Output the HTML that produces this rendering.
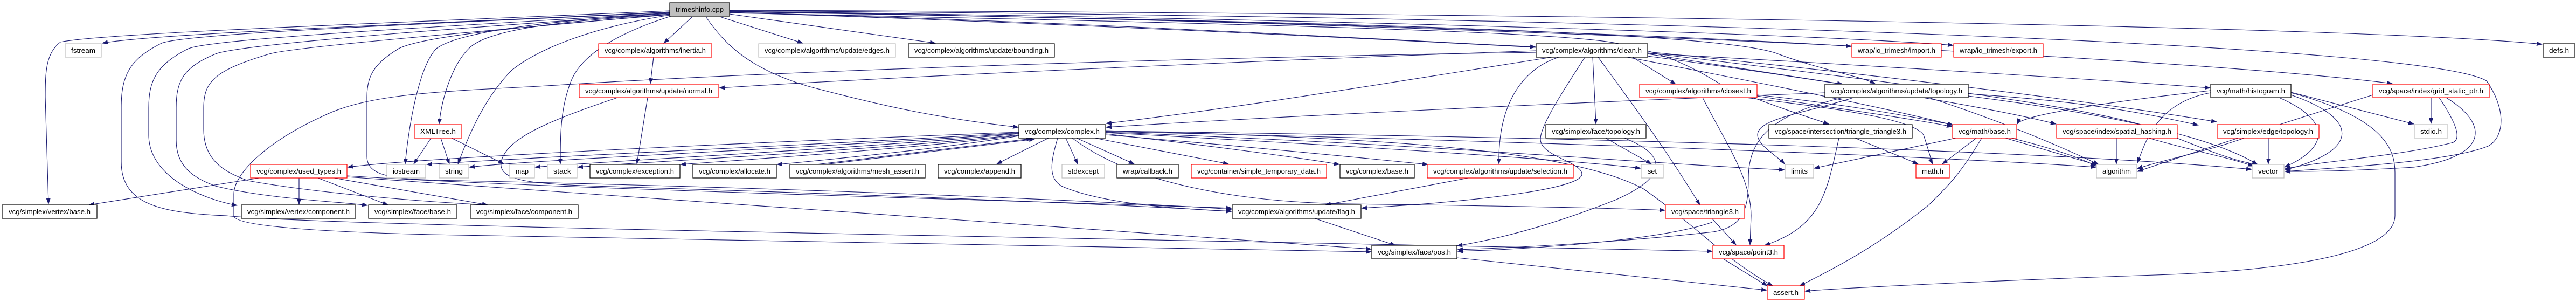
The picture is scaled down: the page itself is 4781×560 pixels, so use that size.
<!DOCTYPE html>
<html><head><meta charset="utf-8"><style>
html,body{margin:0;padding:0;background:#fff}
svg{display:block}
text{font-family:"Liberation Sans",sans-serif;font-size:13px;fill:#000}
.e{fill:none;stroke:#191970;stroke-width:1.1;marker-end:url(#a)}
.k{fill:#fff;stroke:#000;stroke-width:1.2}
.r{fill:#fff;stroke:#ff0000;stroke-width:1.2}
.g{fill:#fff;stroke:#bfbfbf;stroke-width:1.2}
</style></head><body>
<svg width="4781" height="560" viewBox="0 0 4781 560" xmlns="http://www.w3.org/2000/svg">
<defs><marker id="a" markerUnits="userSpaceOnUse" markerWidth="11" markerHeight="8" refX="10" refY="4" orient="auto"><path d="M0,0 L11,4 L0,8 z" fill="#191970"/></marker></defs>
<g>
<!-- from trimeshinfo -->
<path class="e" d="M1243,22 C900,40 300,60 190,80"/>
<path class="e" d="M1243,20 C800,40 200,60 112,78 C86,98 84,130 84,180 L90,378"/>
<path class="e" d="M1243,23 C900,40 350,60 300,80 C240,110 225,140 225,200 L225,300 C225,380 300,395 420,400 C600,420 2000,440 3178,466"/>
<path class="e" d="M1243,24 C900,45 400,70 350,90 C290,120 276,150 276,200 L276,250 C276,330 380,370 440,381"/>
<path class="e" d="M1243,25 C950,45 450,80 400,100 C340,125 327,150 327,200 L327,260 C327,310 360,330 400,345 C500,370 650,375 682,381"/>
<path class="e" d="M1243,26 C1000,50 550,85 500,100 C400,130 378,150 378,200 L378,240 C378,300 420,320 460,335 C600,360 800,375 905,380"/>
<path class="e" d="M1243,27 C1100,40 800,60 740,90 C700,115 681,135 681,180 L681,290 C681,335 750,333 900,336 C1500,350 2000,370 2286,388"/>
<path class="e" d="M1243,24 C1000,40 850,60 810,90 C780,120 760,220 752,304"/>
<path class="e" d="M1243,27 C1000,40 900,60 870,90 C840,120 820,180 815,230"/>
<path class="e" d="M1243,28 C1100,50 1000,90 950,130 C900,180 870,250 850,304"/>
<path class="e" d="M1245,30 C1150,60 1080,100 1060,150 C1040,200 1040,250 1040,304"/>
<path class="e" d="M1285,31 L1232,80"/>
<path class="e" d="M1336,31 L1490,80"/>
<path class="e" d="M1354,26 L1736,80"/>
<path class="e" d="M1310,31 C1350,90 1400,130 1500,160 C1650,200 1750,220 1890,236"/>
<path class="e" d="M1354,23 C2000,40 2500,70 2850,87"/>
<path class="e" d="M1354,21 C2500,40 3200,70 3436,86"/>
<path class="e" d="M1354,21 C2500,35 3400,65 3625,84"/>
<path class="e" d="M1354,22 C2500,40 3200,60 3300,100 C3380,130 3450,140 3480,155"/>
<path class="e" d="M1354,23 C2500,60 3800,140 4102,163"/>
<path class="e" d="M1354,21 C2600,40 4000,100 4440,155"/>
<path class="e" d="M1354,19 C3000,25 4400,50 4718,82"/>
<path class="e" d="M1354,20 C3000,30 4500,80 4615,150 C4650,200 4650,250 4620,270 C4550,300 4350,310 4241,318"/>
<path class="e" d="M1354,24 C2400,45 2900,60 3000,80 C3100,100 3150,130 3200,160 C3300,200 3350,215 3394,230"/>
<!-- normal / inertia -->
<path class="e" d="M1213,106 L1207,155"/>
<path class="e" d="M1202,181 L1182,304"/>
<path class="e" d="M1146,181 C1000,230 940,260 930,300 C925,335 980,340 1100,345 C1600,360 2100,380 2286,392"/>
<path class="e" d="M2851,94 C2400,110 1700,140 1335,163"/>
<path class="e" d="M2851,97 C2000,110 1300,140 1000,160 C800,170 680,176 600,215 C500,260 434,320 434,360 L434,400 C434,420 600,430 800,435 C1500,445 2200,460 2545,467"/>
<!-- XMLTree -->
<path class="e" d="M800,256 L768,304"/>
<path class="e" d="M818,256 L834,304"/>
<path class="e" d="M838,256 L935,304"/>
<!-- used_types -->
<path class="e" d="M481,330 L165,380"/>
<path class="e" d="M555,330 L555,379"/>
<path class="e" d="M590,330 L720,380"/>
<path class="e" d="M620,330 L905,380"/>
<path class="e" d="M644,326 C1000,350 2000,375 2286,386"/>
<path class="e" d="M644,328 C1200,370 2000,420 2545,462"/>
<!-- complex.h -->
<path class="e" d="M1891,245 C1500,260 800,290 645,310"/>
<path class="e" d="M1891,246 C1600,265 1000,290 792,305"/>
<path class="e" d="M1891,247 C1600,270 1000,295 871,310"/>
<path class="e" d="M1891,248 C1600,275 1100,300 993,310"/>
<path class="e" d="M1891,250 C1600,280 1200,300 1072,310"/>
<path class="e" d="M1891,251 C1700,275 1400,295 1263,305"/>
<path class="e" d="M1891,252 C1750,275 1550,295 1442,305"/>
<path class="e" d="M1515,305 L1915,257"/>
<path class="e" d="M1522,306 L1920,258"/>
<path class="e" d="M1946,256 L1850,304"/>
<path class="e" d="M1978,256 L2000,304"/>
<path class="e" d="M1998,256 L2105,304"/>
<path class="e" d="M2032,256 L2280,304"/>
<path class="e" d="M2052,248 C2200,265 2400,290 2486,305"/>
<path class="e" d="M2052,250 C2300,270 2550,295 2650,305"/>
<path class="e" d="M2052,246 C2500,270 2900,295 3045,312"/>
<path class="e" d="M1963,256 C1950,300 1945,330 1970,345 C2050,380 2200,388 2286,392"/>
<path class="e" d="M2052,244 C2800,260 3600,290 3890,310"/>
<path class="e" d="M2052,243 C3000,255 3800,280 4179,314"/>
<path class="e" d="M2052,245 C2700,270 3000,300 3312,315"/>
<path class="e" d="M2052,242 C2500,255 2900,270 3050,350 C3150,420 3200,480 3290,530"/>
<path class="e" d="M1990,256 C2100,340 2300,375 2500,378 C2800,382 3000,386 3090,390"/>
<path class="e" d="M2880,106 C2600,150 2300,200 2053,229"/>
<path class="e" d="M3387,172 C2800,195 2300,220 2053,236"/>
<!-- clean.h -->
<path class="e" d="M3030,106 L3110,156"/>
<path class="e" d="M2956,106 L2962,230"/>
<path class="e" d="M2893,106 C2820,130 2780,200 2782,304"/>
<path class="e" d="M2941,107 C2900,170 2859,233 2859,258 C2859,290 2936,300 2936,323 C2936,345 2800,370 2527,386"/>
<path class="e" d="M2966,106 C3050,220 3100,290 3155,380"/>
<path class="e" d="M3058,100 L3420,156"/>
<path class="e" d="M3020,106 C3250,150 3500,200 3625,232"/>
<path class="e" d="M3058,104 C3400,150 3700,200 3816,230"/>
<path class="e" d="M3058,96 C3500,140 3900,190 4114,226"/>
<path class="e" d="M3058,98 C3500,150 3900,200 4000,240 C4100,280 4150,300 4190,305"/>
<!-- closest -->
<path class="e" d="M3160,181 C3200,260 3250,330 3250,400 L3248,454"/>
<path class="e" d="M3240,181 C3400,200 3550,220 3570,250 C3580,280 3585,300 3587,304"/>
<path class="e" d="M3261,178 C3400,200 3550,220 3623,235"/>
<path class="e" d="M3261,176 C3500,200 3800,260 3890,308"/>
<!-- update/topology -->
<path class="e" d="M3420,181 C3300,210 3245,250 3245,330 C3245,380 3240,420 3180,430 C3000,450 2800,460 2705,463"/>
<path class="e" d="M3440,181 C3350,210 3262,220 3262,250 C3262,270 3300,290 3312,304"/>
<path class="e" d="M3580,181 C3700,220 3800,260 3895,305"/>
<path class="e" d="M3653,178 C3900,210 4100,250 4190,305"/>
<path class="e" d="M3653,174 C3900,190 4000,215 4080,232"/>
<!-- face topology -->
<path class="e" d="M2980,256 L3065,304"/>
<path class="e" d="M3015,256 C3100,290 3090,330 3000,370 C2900,410 2800,440 2704,456"/>
<!-- misc -->
<path class="e" d="M2725,330 L2460,380"/>
<path class="e" d="M2440,405 L2590,455"/>
<path class="e" d="M3178,406 L3222,454"/>
<path class="e" d="M3178,412 C3100,440 2900,460 2705,466"/>
<path class="e" d="M3200,481 C3230,500 3255,515 3280,530"/>
<path class="e" d="M2704,478 C3000,510 3200,530 3279,538"/>
<path class="e" d="M3630,256 L3367,312"/>
<path class="e" d="M3668,256 L3605,304"/>
<path class="e" d="M3678,256 C3640,320 3620,340 3580,380 C3480,460 3400,500 3340,530"/>
<path class="e" d="M3722,256 L3892,306"/>
<path class="e" d="M3443,256 L3560,304"/>
<path class="e" d="M3413,256 C3390,360 3380,420 3275,455"/>
<path class="e" d="M3928,256 L3928,304"/>
<path class="e" d="M3988,256 C4070,280 4130,290 4182,308"/>
<path class="e" d="M4210,256 L4210,304"/>
<path class="e" d="M4165,256 C4100,280 4000,300 3967,313"/>
<path class="e" d="M4252,171 L4480,230"/>
<path class="e" d="M4230,181 C4320,220 4330,270 4240,310"/>
<path class="e" d="M4252,176 C4380,220 4380,280 4241,315"/>
<path class="e" d="M4252,172 C4430,220 4445,280 4445,320 L4445,400 C4445,460 4300,500 4000,510 C3700,520 3400,535 3350,540"/>
<path class="e" d="M4103,172 C4000,190 3980,270 3967,302"/>
<path class="e" d="M4103,168 C3900,190 3750,215 3744,230"/>
<path class="e" d="M4512,181 L4512,229"/>
<path class="e" d="M4527,181 C4560,230 4570,260 4550,265 C4450,290 4300,300 4241,313"/>
<path class="e" d="M4540,181 C4620,230 4620,290 4480,310 C4350,318 4280,318 4241,318"/>
<path class="e" d="M4404,176 C4200,240 4050,290 3967,318"/>
</g>
<g>
<rect x="1243" y="5" width="111" height="25" fill="#bfbfbf" stroke="#000" stroke-width="1.2"/><text x="1298.5" y="22" text-anchor="middle" textLength="89" lengthAdjust="spacingAndGlyphs">trimeshinfo.cpp</text>
<rect class="g" x="121" y="81" width="67" height="25"/><text x="154.5" y="98" text-anchor="middle" textLength="45" lengthAdjust="spacingAndGlyphs">fstream</text>
<rect class="r" x="1111" y="81" width="210" height="25"/><text x="1216" y="98" text-anchor="middle" textLength="188" lengthAdjust="spacingAndGlyphs">vcg/complex/algorithms/inertia.h</text>
<rect class="g" x="1408" y="81" width="254" height="25"/><text x="1535" y="98" text-anchor="middle" textLength="232" lengthAdjust="spacingAndGlyphs">vcg/complex/algorithms/update/edges.h</text>
<rect class="k" x="1686" y="81" width="271" height="25"/><text x="1821.5" y="98" text-anchor="middle" textLength="249" lengthAdjust="spacingAndGlyphs">vcg/complex/algorithms/update/bounding.h</text>
<rect class="k" x="2851" y="81" width="207" height="25"/><text x="2954.5" y="98" text-anchor="middle" textLength="185" lengthAdjust="spacingAndGlyphs">vcg/complex/algorithms/clean.h</text>
<rect class="r" x="3437" y="81" width="166" height="25"/><text x="3520" y="98" text-anchor="middle" textLength="144" lengthAdjust="spacingAndGlyphs">wrap/io_trimesh/import.h</text>
<rect class="r" x="3626" y="81" width="166" height="25"/><text x="3709" y="98" text-anchor="middle" textLength="144" lengthAdjust="spacingAndGlyphs">wrap/io_trimesh/export.h</text>
<rect class="k" x="4720" y="81" width="59" height="25"/><text x="4749.5" y="98" text-anchor="middle" textLength="37" lengthAdjust="spacingAndGlyphs">defs.h</text>
<rect class="r" x="1075" y="156" width="258" height="25"/><text x="1204" y="173" text-anchor="middle" textLength="236" lengthAdjust="spacingAndGlyphs">vcg/complex/algorithms/update/normal.h</text>
<rect class="r" x="3043" y="156" width="218" height="25"/><text x="3152" y="173" text-anchor="middle" textLength="196" lengthAdjust="spacingAndGlyphs">vcg/complex/algorithms/closest.h</text>
<rect class="k" x="3387" y="156" width="266" height="25"/><text x="3520" y="173" text-anchor="middle" textLength="244" lengthAdjust="spacingAndGlyphs">vcg/complex/algorithms/update/topology.h</text>
<rect class="k" x="4103" y="156" width="149" height="25"/><text x="4177.5" y="173" text-anchor="middle" textLength="127" lengthAdjust="spacingAndGlyphs">vcg/math/histogram.h</text>
<rect class="r" x="4404" y="156" width="216" height="25"/><text x="4512" y="173" text-anchor="middle" textLength="194" lengthAdjust="spacingAndGlyphs">vcg/space/index/grid_static_ptr.h</text>
<rect class="r" x="769" y="231" width="88" height="25"/><text x="813" y="248" text-anchor="middle" textLength="66" lengthAdjust="spacingAndGlyphs">XMLTree.h</text>
<rect class="k" x="1891" y="231" width="161" height="25"/><text x="1971.5" y="248" text-anchor="middle" textLength="139" lengthAdjust="spacingAndGlyphs">vcg/complex/complex.h</text>
<rect class="k" x="2869" y="231" width="186" height="25"/><text x="2962" y="248" text-anchor="middle" textLength="164" lengthAdjust="spacingAndGlyphs">vcg/simplex/face/topology.h</text>
<rect class="k" x="3283" y="231" width="266" height="25"/><text x="3416" y="248" text-anchor="middle" textLength="244" lengthAdjust="spacingAndGlyphs">vcg/space/intersection/triangle_triangle3.h</text>
<rect class="r" x="3624" y="231" width="119" height="25"/><text x="3683.5" y="248" text-anchor="middle" textLength="97" lengthAdjust="spacingAndGlyphs">vcg/math/base.h</text>
<rect class="r" x="3817" y="231" width="224" height="25"/><text x="3929" y="248" text-anchor="middle" textLength="202" lengthAdjust="spacingAndGlyphs">vcg/space/index/spatial_hashing.h</text>
<rect class="r" x="4115" y="231" width="189" height="25"/><text x="4209.5" y="248" text-anchor="middle" textLength="167" lengthAdjust="spacingAndGlyphs">vcg/simplex/edge/topology.h</text>
<rect class="g" x="4481" y="231" width="62" height="25"/><text x="4512" y="248" text-anchor="middle" textLength="40" lengthAdjust="spacingAndGlyphs">stdio.h</text>
<rect class="r" x="465" y="305" width="179" height="25"/><text x="554.5" y="322" text-anchor="middle" textLength="157" lengthAdjust="spacingAndGlyphs">vcg/complex/used_types.h</text>
<rect class="g" x="718" y="305" width="72" height="25"/><text x="754" y="322" text-anchor="middle" textLength="50" lengthAdjust="spacingAndGlyphs">iostream</text>
<rect class="g" x="815" y="305" width="55" height="25"/><text x="842.5" y="322" text-anchor="middle" textLength="33" lengthAdjust="spacingAndGlyphs">string</text>
<rect class="g" x="946" y="305" width="46" height="25"/><text x="969" y="322" text-anchor="middle" textLength="24" lengthAdjust="spacingAndGlyphs">map</text>
<rect class="g" x="1016" y="305" width="55" height="25"/><text x="1043.5" y="322" text-anchor="middle" textLength="33" lengthAdjust="spacingAndGlyphs">stack</text>
<rect class="k" x="1095" y="305" width="167" height="25"/><text x="1178.5" y="322" text-anchor="middle" textLength="145" lengthAdjust="spacingAndGlyphs">vcg/complex/exception.h</text>
<rect class="k" x="1286" y="305" width="155" height="25"/><text x="1363.5" y="322" text-anchor="middle" textLength="133" lengthAdjust="spacingAndGlyphs">vcg/complex/allocate.h</text>
<rect class="k" x="1466" y="305" width="251" height="25"/><text x="1591.5" y="322" text-anchor="middle" textLength="229" lengthAdjust="spacingAndGlyphs">vcg/complex/algorithms/mesh_assert.h</text>
<rect class="k" x="1741" y="305" width="154" height="25"/><text x="1818" y="322" text-anchor="middle" textLength="132" lengthAdjust="spacingAndGlyphs">vcg/complex/append.h</text>
<rect class="g" x="1971" y="305" width="79" height="25"/><text x="2010.5" y="322" text-anchor="middle" textLength="57" lengthAdjust="spacingAndGlyphs">stdexcept</text>
<rect class="k" x="2073" y="305" width="114" height="25"/><text x="2130" y="322" text-anchor="middle" textLength="92" lengthAdjust="spacingAndGlyphs">wrap/callback.h</text>
<rect class="r" x="2211" y="305" width="251" height="25"/><text x="2336.5" y="322" text-anchor="middle" textLength="229" lengthAdjust="spacingAndGlyphs">vcg/container/simple_temporary_data.h</text>
<rect class="k" x="2487" y="305" width="138" height="25"/><text x="2556" y="322" text-anchor="middle" textLength="116" lengthAdjust="spacingAndGlyphs">vcg/complex/base.h</text>
<rect class="r" x="2649" y="305" width="271" height="25"/><text x="2784.5" y="322" text-anchor="middle" textLength="249" lengthAdjust="spacingAndGlyphs">vcg/complex/algorithms/update/selection.h</text>
<rect class="g" x="3046" y="305" width="41" height="25"/><text x="3066.5" y="322" text-anchor="middle" textLength="17" lengthAdjust="spacingAndGlyphs">set</text>
<rect class="g" x="3313" y="305" width="53" height="25"/><text x="3339.5" y="322" text-anchor="middle" textLength="31" lengthAdjust="spacingAndGlyphs">limits</text>
<rect class="r" x="3556" y="305" width="62" height="25"/><text x="3587" y="322" text-anchor="middle" textLength="40" lengthAdjust="spacingAndGlyphs">math.h</text>
<rect class="g" x="3891" y="305" width="75" height="25"/><text x="3928.5" y="322" text-anchor="middle" textLength="53" lengthAdjust="spacingAndGlyphs">algorithm</text>
<rect class="g" x="4180" y="305" width="59" height="25"/><text x="4209.5" y="322" text-anchor="middle" textLength="37" lengthAdjust="spacingAndGlyphs">vector</text>
<rect class="k" x="4" y="380" width="176" height="25"/><text x="92" y="397" text-anchor="middle" textLength="152" lengthAdjust="spacingAndGlyphs">vcg/simplex/vertex/base.h</text>
<rect class="k" x="448" y="380" width="212" height="25"/><text x="554" y="397" text-anchor="middle" textLength="190" lengthAdjust="spacingAndGlyphs">vcg/simplex/vertex/component.h</text>
<rect class="k" x="684" y="380" width="164" height="25"/><text x="766" y="397" text-anchor="middle" textLength="142" lengthAdjust="spacingAndGlyphs">vcg/simplex/face/base.h</text>
<rect class="k" x="873" y="380" width="200" height="25"/><text x="973" y="397" text-anchor="middle" textLength="178" lengthAdjust="spacingAndGlyphs">vcg/simplex/face/component.h</text>
<rect class="k" x="2287" y="380" width="239" height="25"/><text x="2406.5" y="397" text-anchor="middle" textLength="217" lengthAdjust="spacingAndGlyphs">vcg/complex/algorithms/update/flag.h</text>
<rect class="r" x="3091" y="380" width="147" height="25"/><text x="3164.5" y="397" text-anchor="middle" textLength="125" lengthAdjust="spacingAndGlyphs">vcg/space/triangle3.h</text>
<rect class="k" x="2546" y="455" width="158" height="25"/><text x="2625" y="472" text-anchor="middle" textLength="136" lengthAdjust="spacingAndGlyphs">vcg/simplex/face/pos.h</text>
<rect class="r" x="3179" y="455" width="132" height="25"/><text x="3245" y="472" text-anchor="middle" textLength="110" lengthAdjust="spacingAndGlyphs">vcg/space/point3.h</text>
<rect class="r" x="3280" y="530" width="69" height="25"/><text x="3314.5" y="547" text-anchor="middle" textLength="47" lengthAdjust="spacingAndGlyphs">assert.h</text>
</g>
</svg>
</body></html>
